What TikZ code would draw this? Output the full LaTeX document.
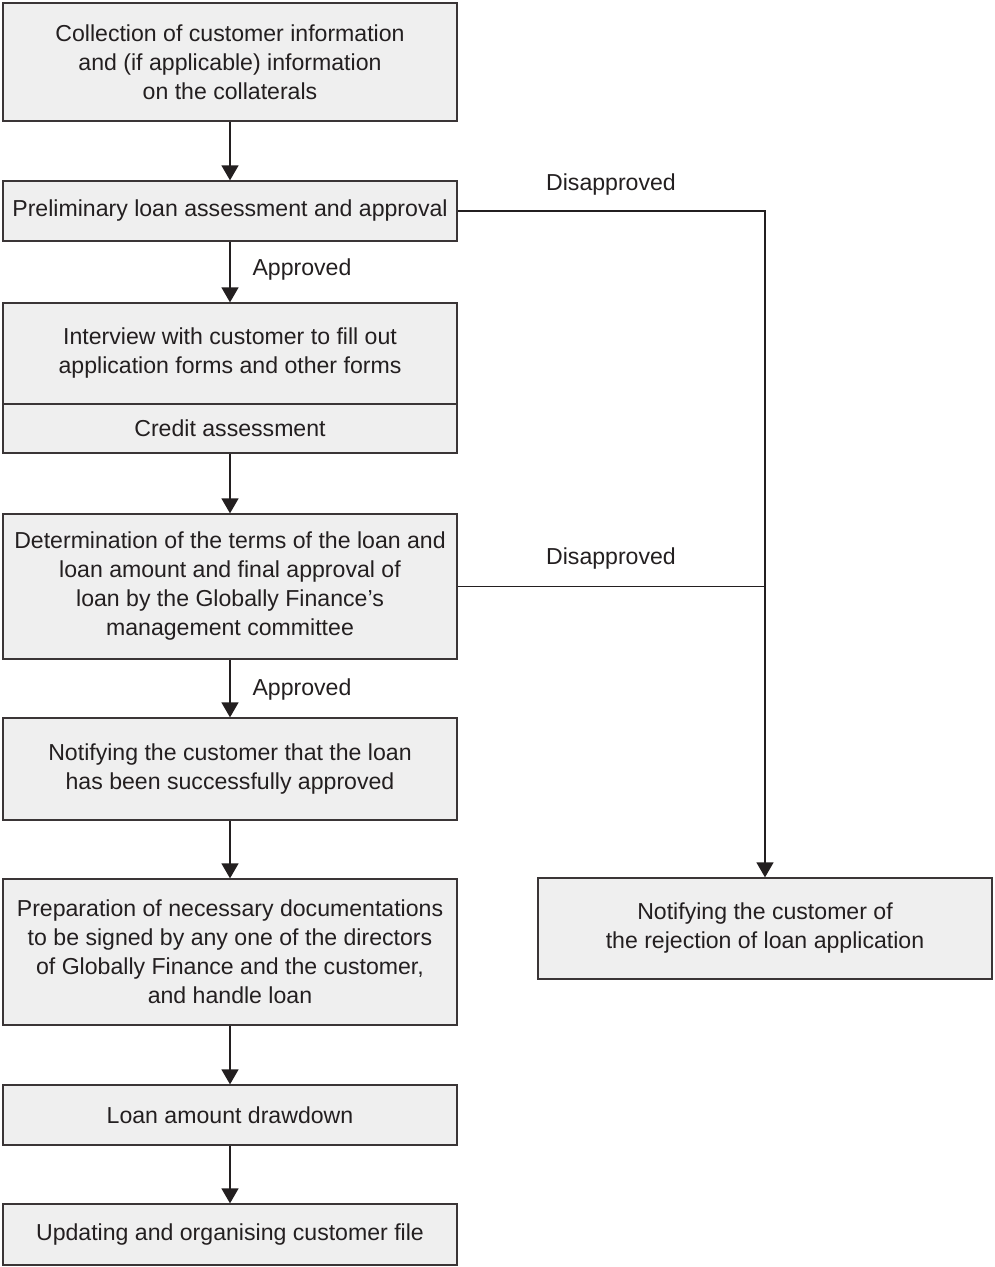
\documentclass[tikz,border=0pt]{standalone}
\usepackage{fontspec}
\setmainfont{Liberation Sans}
\usetikzlibrary{arrows.meta}
\definecolor{boxfill}{HTML}{EFEFEF}
\definecolor{ink}{HTML}{231F20}
\definecolor{edge}{HTML}{3A3536}
\begin{document}
\begin{tikzpicture}[x=1pt,y=-1pt,
  box/.style={draw=edge,fill=boxfill,line width=1.3pt,minimum width=454pt,inner sep=0pt,align=center,text=ink,font=\fontsize{23.1}{29}\selectfont},
  lbl/.style={text=ink,inner sep=0pt,font=\fontsize{23.1}{29}\selectfont},
  arr/.style={draw=ink,line width=1.4pt,-{Triangle[width=17pt,length=15pt]}},
  conn/.style={draw=ink,line width=1.4pt}]
\useasboundingbox (0,0) rectangle (994,1267);
\fill[white] (0,0) rectangle (994,1267);
\node[box,minimum height=118pt] (b1) at (230,62) {Collection of customer information\\and (if applicable) information\\on the collaterals};
\node[box,minimum height=60pt] (b2) at (230,211) {Preliminary loan assessment and approval};
\node[box,minimum height=101pt] (b3a) at (230,353.5) {Interview with customer to fill out\\application forms and other forms};
\node[box,minimum height=49pt] (b3b) at (230,428.5) {Credit assessment};
\node[box,minimum height=145pt] (b4) at (230,586.5) {Determination of the terms of the loan and\\loan amount and final approval of\\loan by the Globally Finance's\\management committee};
\node[box,minimum height=102pt] (b5) at (230,769) {Notifying the customer that the loan\\has been successfully approved};
\node[box,minimum height=146pt] (b6) at (230,952) {Preparation of necessary documentations\\to be signed by any one of the directors\\of Globally Finance and the customer,\\and handle loan};
\node[box,minimum height=60pt] (b7) at (230,1115) {Loan amount drawdown};
\node[box,minimum height=61pt] (b8) at (230,1234.5) {Updating and organising customer file};
\node[box,minimum height=101pt] (rej) at (765,928.5) {Notifying the customer of\\the rejection of loan application};
\draw[arr] (b1) -- (b2);
\draw[arr] (b2) -- (b3a);
\draw[arr] (b3b) -- (b4);
\draw[arr] (b4) -- (b5);
\draw[arr] (b5) -- (b6);
\draw[arr] (b6) -- (b7);
\draw[arr] (b7) -- (b8);
\draw[arr] (b2.east) -| (rej.north);
\draw[conn] (b4.east) -- (b4.east -| rej.north);
\node[lbl] (l1) at (611,185) {Disapproved};
\node[lbl] (l2) at (611,559) {Disapproved};
\node[lbl] (l3) at (302,270) {Approved};
\node[lbl] (l4) at (302,690) {Approved};
\end{tikzpicture}
\end{document}
